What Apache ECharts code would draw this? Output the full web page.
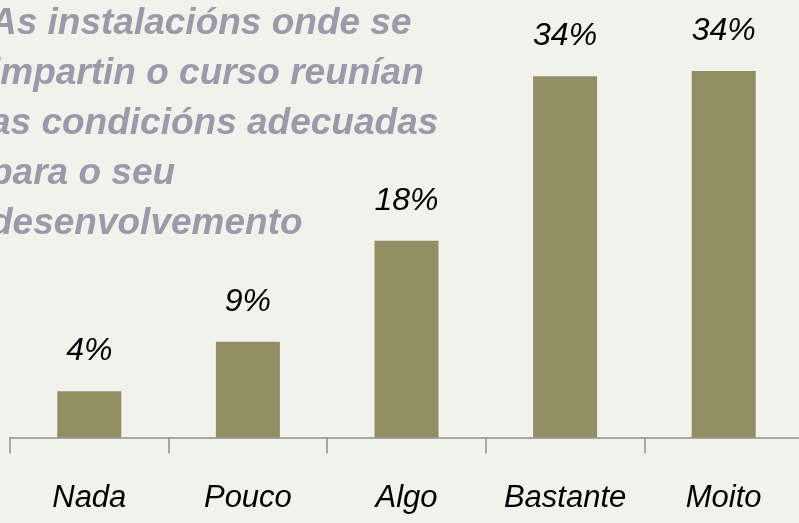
<!DOCTYPE html>
<html>
<head>
<meta charset="utf-8">
<script src="https://cdn.jsdelivr.net/npm/echarts@6/dist/echarts.min.js"></script>
<style>
  html, body { margin: 0; padding: 0; background: #f2f2ec; }
  #main { width: 799px; height: 523px; }
</style>
</head>
<body>
<div id="main"></div>
<script>
var categories = ['Nada', 'Pouco', 'Algo', 'Bastante', 'Moito'];
var values = [4.3, 8.9, 18.3, 33.6, 34.1];
var valueLabels = ['4%', '9%', '18%', '34%', '34%'];
var titleText = 'As instalacións onde se\nimpartin o curso reunían\nas condicións adecuadas\npara o seu\ndesenvolvemento';

var myChart = echarts.init(document.getElementById('main'));

var option = {
	backgroundColor: '#f2f2ec',
	animation: false,
	title: {
		text: titleText,
		left: -15,
		top: -6,
		textStyle: {
			color: '#9a9aab',
			fontFamily: 'Liberation Sans',
			fontStyle: 'italic',
			fontWeight: 'bold',
			fontSize: 37,
			lineHeight: 50
		}
	},
	grid: {
		left: 10,
		top: 7.5,
		width: 793,
		height: 430,
		outerBoundsMode: 'none'
	},
	xAxis: {
		type: 'category',
		data: categories,
		axisLine: {
			lineStyle: { color: '#8e8e8e', width: 1.5 }
		},
		axisTick: {
			show: true,
			interval: 0,
			length: 16,
			lineStyle: { color: '#8e8e8e', width: 1.5 }
		},
		axisLabel: {
			interval: 0,
			margin: 45,
			color: '#000',
			fontFamily: 'Liberation Sans',
			fontStyle: 'italic',
			fontSize: 31
		}
	},
	yAxis: {
		type: 'value',
		min: 0,
		max: 40,
		show: false,
		splitLine: { show: false }
	},
	series: [
		{
			type: 'bar',
			data: values,
			barWidth: 64,
			itemStyle: { color: '#918e63' },
			label: {
				show: true,
				position: 'top',
				distance: 24,
				color: '#000',
				fontFamily: 'Liberation Sans',
				fontStyle: 'italic',
				fontSize: 32,
				formatter: function (p) { return valueLabels[p.dataIndex]; }
			}
		}
	]
};

myChart.setOption(option);
</script>
</body>
</html>
